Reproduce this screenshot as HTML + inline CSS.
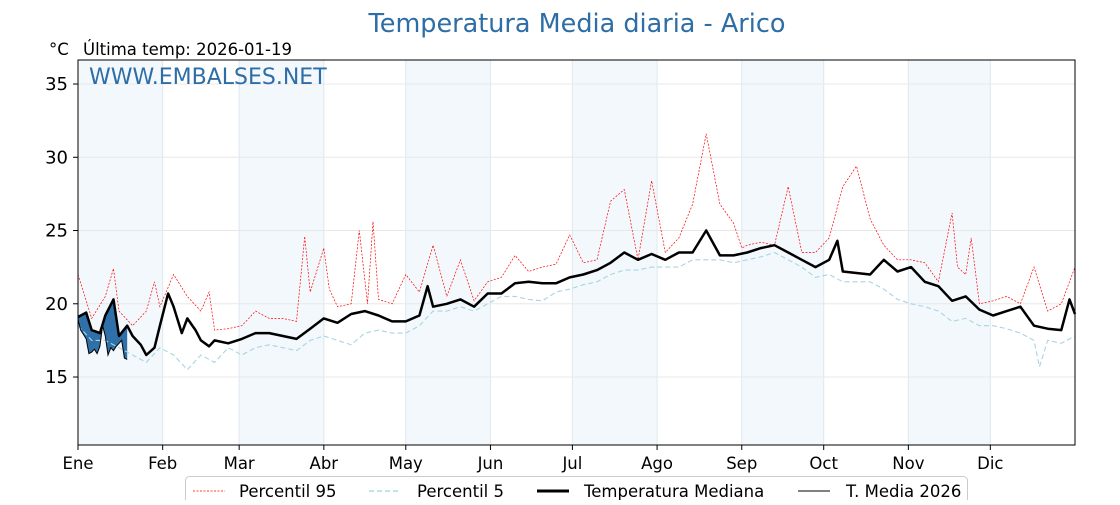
<!DOCTYPE html>
<html><head><meta charset="utf-8">
<style>
html,body{margin:0;padding:0;background:#fff;}
body{width:1120px;height:500px;overflow:hidden;font-family:"Liberation Sans","DejaVu Sans",sans-serif;}
svg text{font-family:"DejaVu Sans","Liberation Sans",sans-serif;}
</style></head>
<body>
<svg id="chart" width="1120" height="500" xmlns="http://www.w3.org/2000/svg">
<g id="bands"></g>
<g id="grid"></g>
<g id="series"></g>
<g id="axes"></g>
<text x="577" y="32" text-anchor="middle" font-size="25.5" fill="#2e6ea6">Temperatura Media diaria - Arico</text>
<text x="49" y="55" font-size="16.5" fill="#000">°C</text>
<text x="83" y="55" font-size="16.5" fill="#000">Última temp: 2026-01-19</text>
<text x="89" y="84" font-size="22" fill="#2e6ea6">WWW.EMBALSES.NET</text>
<g>
<rect x="185.5" y="476.5" width="782" height="32" rx="4" fill="#fff" stroke="#ccc"/>
<line x1="193" y1="491" x2="225" y2="491" stroke="red" stroke-width="0.8" stroke-dasharray="2,1.5"/>
<text x="239" y="497" font-size="16.5">Percentil 95</text>
<line x1="369" y1="491" x2="401" y2="491" stroke="#9fd0e0" stroke-width="1.2" stroke-dasharray="5,3"/>
<text x="417" y="497" font-size="16.5">Percentil 5</text>
<line x1="537" y1="491" x2="569" y2="491" stroke="#000" stroke-width="3"/>
<text x="584" y="497" font-size="16.5">Temperatura Mediana</text>
<line x1="798" y1="491" x2="830" y2="491" stroke="#000" stroke-width="1"/>
<text x="846" y="497" font-size="16.5">T. Media 2026</text>
</g>
</svg>
<script>
const months=["Ene","Feb","Mar","Abr","May","Jun","Jul","Ago","Sep","Oct","Nov","Dic"];
const monthStart=[0,31,59,90,120,151,181,212,243,273,304,334];
const yTicks=[15,20,25,30,35];
const medDays=[0,3,5,8,10,13,15,18,20,23,25,28,30,33,35,38,40,43,45,48,50,55,60,65,70,75,80,85,90,95,100,105,110,115,120,125,128,130,135,140,145,150,155,160,165,170,175,180,185,190,195,200,205,210,215,220,225,230,235,240,245,250,255,260,265,270,275,278,280,285,290,295,300,305,310,315,320,325,330,335,340,345,350,355,360,363,365];
const medVals=[19.1,19.4,18.2,18.0,19.2,20.3,17.8,18.5,17.8,17.2,16.5,17.0,18.5,20.7,19.8,18.0,19,18.2,17.5,17.1,17.5,17.3,17.6,18,18,17.8,17.6,18.3,19,18.7,19.3,19.5,19.2,18.8,18.8,19.2,21.2,19.8,20,20.3,19.8,20.7,20.7,21.4,21.5,21.4,21.4,21.8,22,22.3,22.8,23.5,23,23.4,23,23.5,23.5,25,23.3,23.3,23.5,23.8,24,23.5,23,22.5,23,24.3,22.2,22.1,22,23,22.2,22.5,21.5,21.2,20.2,20.5,19.6,19.2,19.5,19.8,18.5,18.3,18.2,20.3,19.3];
const p95Days=[0,5,10,13,15,20,25,28,30,35,40,45,48,50,55,60,65,70,75,80,83,85,90,92,95,100,103,106,108,110,115,120,125,130,135,140,145,150,155,160,165,170,175,180,185,190,195,200,205,210,215,220,225,230,235,240,243,245,250,255,260,265,270,275,280,285,290,295,300,305,310,315,320,322,325,327,330,335,340,345,350,355,360,365];
const p95Vals=[22,19,20.5,22.4,19.5,18.5,19.5,21.5,19.8,22,20.5,19.5,20.8,18.2,18.3,18.5,19.5,19,19,18.8,24.6,20.8,23.8,21,19.8,20,25,20,25.6,20.3,20,22,20.8,24,20.5,23,20.2,21.5,21.8,23.3,22.2,22.5,22.7,24.7,22.8,23,27,27.8,23,28.4,23.5,24.5,26.8,31.6,26.8,25.5,23.8,24,24.2,24,28,23.5,23.5,24.5,28,29.4,25.8,24,23,23,22.8,21.5,26.2,22.5,22,24.5,20,20.2,20.5,20,22.5,19.5,20,22.5];
const p5Days=[0,5,10,15,20,25,30,35,40,45,50,55,60,65,70,75,80,85,90,95,100,105,110,115,120,125,130,135,140,145,150,155,160,165,170,175,180,185,190,195,200,205,210,215,220,225,230,235,240,245,250,255,260,265,270,275,280,285,290,295,300,305,310,315,320,325,330,335,340,345,350,352,355,360,365];
const p5Vals=[18.5,17.5,17.5,17,16.5,16,17,16.5,15.5,16.5,16,17,16.5,17,17.2,17,16.8,17.5,17.8,17.5,17.2,18,18.2,18,18,18.5,19.5,19.5,19.8,19.5,20,20.5,20.5,20.3,20.2,20.8,21,21.3,21.5,22,22.3,22.3,22.5,22.5,22.5,23,23,23,22.8,23,23.2,23.5,23,22.5,21.8,22,21.5,21.5,21.5,21,20.3,20,19.8,19.5,18.8,19,18.5,18.5,18.3,18,17.5,15.7,17.5,17.3,17.8];
const t2026=[18.9,18.2,17.9,17.6,16.6,16.7,16.9,16.6,17.1,18.5,17.8,16.5,17.0,16.8,17.1,17.3,17.5,16.3,16.2];

const L=78,R=1075,T=60,B=445,YMIN=10.36,YMAX=36.64;
const x=d=>L+d*(R-L)/365;
const y=v=>B-(v-YMIN)*(B-T)/(YMAX-YMIN);
const NS="http://www.w3.org/2000/svg";
function mk(tag,attrs,parent){const e=document.createElementNS(NS,tag);for(const k in attrs)e.setAttribute(k,attrs[k]);parent.appendChild(e);return e;}
const bands=document.getElementById('bands'),grid=document.getElementById('grid'),series=document.getElementById('series'),axes=document.getElementById('axes');
for(let i=0;i<12;i+=2){
  const e=mk('rect',{x:x(monthStart[i]),y:T,width:x(monthStart[i+1])-x(monthStart[i]),height:B-T,fill:'#f3f8fc'},bands);
  
  
}
for(let i=1;i<12;i++){
  const e=mk('line',{x1:x(monthStart[i]),x2:x(monthStart[i]),y1:T,y2:B,stroke:'#dde8f0','stroke-width':1},grid);
  
  
}
yTicks.forEach(v=>{
  const g=mk('line',{x1:L,x2:R,y1:y(v),y2:y(v),stroke:'#e8e8e8','stroke-width':1},grid);
  
  
  mk('line',{x1:L-5,x2:L,y1:y(v),y2:y(v),stroke:'#000'},axes);
  const t=mk('text',{x:L-10,y:y(v)+6,'text-anchor':'end','font-size':18},axes);t.textContent=v;
  
  
});
months.forEach((m,i)=>{
  mk('line',{x1:x(monthStart[i]),x2:x(monthStart[i]),y1:B,y2:B+5,stroke:'#000'},axes);
  const t=mk('text',{x:x(monthStart[i]),y:B+24,'text-anchor':'middle','font-size':16.5},axes);t.textContent=m;
  
  
});
const fr=mk('rect',{x:L,y:T,width:R-L,height:B-T,fill:'none',stroke:'#000','stroke-width':1},axes);


function interp(ds,vs,d){for(let i=1;i<ds.length;i++){if(d<=ds[i]){const f=(d-ds[i-1])/(ds[i]-ds[i-1]);return vs[i-1]+f*(vs[i]-vs[i-1]);}}return vs[vs.length-1];}
function pts(ds,vs){return ds.map((d,i)=>x(d).toFixed(1)+','+y(vs[i]).toFixed(1)).join(' ');}
const days26=t2026.map((v,i)=>i);
let poly=days26.map((d,i)=>x(d).toFixed(1)+','+y(t2026[i]).toFixed(1));
for(let i=days26.length-1;i>=0;i--)poly.push(x(days26[i]).toFixed(1)+','+y(Math.max(t2026[i],interp(medDays,medVals,days26[i]))).toFixed(1));
const fill=mk('polygon',{points:poly.join(' '),fill:'#3070a8',stroke:'none'},series);


const p5=mk('polyline',{points:pts(p5Days,p5Vals),fill:'none',stroke:'#a8d4e4','stroke-width':1.1,'stroke-dasharray':'5,3'},series);


const p95=mk('polyline',{points:pts(p95Days,p95Vals),fill:'none',stroke:'red','stroke-width':0.7,'stroke-dasharray':'2,1.5'},series);


const med=mk('polyline',{points:pts(medDays,medVals),fill:'none',stroke:'#000','stroke-width':2.5,'stroke-linejoin':'round'},series);


const l26=mk('polyline',{points:pts(days26,t2026),fill:'none',stroke:'#000','stroke-width':1},series);


</script>
</body></html>
